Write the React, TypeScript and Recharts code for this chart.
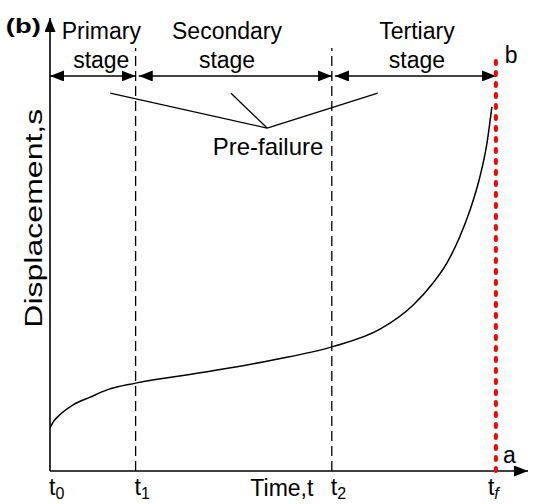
import { ComposedChart, Line, XAxis, YAxis, ReferenceLine, ReferenceDot } from 'recharts';

// curve (time, displacement), arbitrary units
const times = [0, 0.07, 0.22, 0.52, 0.9, 1.28, 1.92, 3.52, 5.0, 6.32, 7.4, 8.14, 8.59, 8.9, 9.19, 9.42, 9.64, 9.8, 9.91];
const displacement = [0.95, 1.08, 1.24, 1.46, 1.63, 1.79, 1.94, 2.19, 2.45, 2.74, 3.13, 3.66, 4.15, 4.59, 5.17, 5.76, 6.49, 7.24, 8.04];

// t0, t1, t2, tf
const stageBounds = [0, 1.92, 6.32, 10];
const stageSubs = ['0', '1', '2', 'f'];
const stageNames = ['Primary', 'Secondary', 'Tertiary'];

const data = times.map((t, i) => ({ t, s: displacement[i] }));

const FONT = '"Liberation Sans", Arial, sans-serif';
const X_MAX = 10.72;
const Y_MAX = 10;

// annotation layout (data units)
const ARROW_S = 8.72;
const STAGE_TEXT_S = 9.54;
const stageTextT = [1.15, 3.97, 8.23];
const preFailFromT = [1.35, 4.06, 7.35];
const PRE_FROM_S = 8.34;
const PRE_JOIN = { t: 4.87, s: 7.57 };

const TimeTick = (p: any) => {
  const i = stageBounds.indexOf(p.payload.value);
  const sub = stageSubs[i];
  const isLast = i === stageBounds.length - 1;
  return (
    <text x={p.x + (isLast ? -8 : -1)} y={p.y + 24} fontFamily={FONT} fontSize={23} fill="#000">
      t
      <tspan dy={4} fontSize={16} fontStyle={sub === 'f' ? 'italic' : 'normal'}>
        {sub}
      </tspan>
    </text>
  );
};

const label =
  (content: string, extra: any = {}) =>
  (p: any) => (
    <text x={p.cx} y={p.cy} fontFamily={FONT} fontSize={23} fill="#000" {...extra}>
      {content}
    </text>
  );

const plainLine = (extra: any) => (p: any) =>
  <line x1={p.x1} y1={p.y1} x2={p.x2} y2={p.y2} stroke="#000" strokeWidth={1.4} {...extra} />;

export default function App() {
  return (
    <div style={{ position: 'absolute', left: 0, top: 0, background: '#fff' }}>
      <ComposedChart width={536} height={504} data={data} margin={{ top: 18, right: 8, left: 0, bottom: 0 }}>
        <defs>
          <marker
            id="ah"
            viewBox="0 0 14 11"
            refX="14"
            refY="5.5"
            markerWidth="14"
            markerHeight="11"
            markerUnits="userSpaceOnUse"
            orient="auto-start-reverse"
          >
            <path d="M0,0 L14,5.5 L0,11 z" fill="#000" />
          </marker>
        </defs>

        <XAxis
          dataKey="t"
          type="number"
          domain={[0, X_MAX]}
          allowDataOverflow
          ticks={stageBounds}
          tick={TimeTick}
          tickLine={false}
          axisLine={false}
          tickSize={0}
          tickMargin={0}
          height={33}
        />
        <YAxis type="number" domain={[0, Y_MAX]} allowDataOverflow width={50} tick={false} tickLine={false} axisLine={false} />

        {/* axes with arrow heads */}
        <ReferenceLine
          segment={[{ x: 0, y: 0 }, { x: 0, y: Y_MAX }]}
          ifOverflow="visible"
          shape={plainLine({ strokeWidth: 1.6, markerEnd: 'url(#ah)' })}
        />
        <ReferenceLine
          segment={[{ x: 0, y: 0 }, { x: X_MAX, y: 0 }]}
          ifOverflow="visible"
          shape={plainLine({ strokeWidth: 1.6, markerEnd: 'url(#ah)' })}
        />

        {/* stage boundaries */}
        <ReferenceLine
          segment={[{ x: stageBounds[1], y: 0 }, { x: stageBounds[1], y: 9.34 }]}
          ifOverflow="visible"
          shape={plainLine({ strokeWidth: 1.3, strokeDasharray: '10 5' })}
        />
        <ReferenceLine
          segment={[{ x: stageBounds[2], y: 0 }, { x: stageBounds[2], y: 9.34 }]}
          ifOverflow="visible"
          shape={plainLine({ strokeWidth: 1.3, strokeDasharray: '10 5' })}
        />

        {/* double arrows for each stage */}
        {stageNames.map((_, i) => (
          <ReferenceLine
            key={'arr' + i}
            segment={[
              { x: stageBounds[i] + (i === 0 ? 0 : 0.07), y: ARROW_S },
              { x: stageBounds[i + 1], y: ARROW_S },
            ]}
            ifOverflow="visible"
            shape={plainLine({ strokeWidth: 1.4, markerStart: 'url(#ah)', markerEnd: 'url(#ah)' })}
          />
        ))}

        {/* pre-failure pointers */}
        {preFailFromT.map((t, i) => (
          <ReferenceLine
            key={'pf' + i}
            segment={[{ x: t, y: PRE_FROM_S }, { x: PRE_JOIN.t, y: PRE_JOIN.s }]}
            ifOverflow="visible"
            shape={plainLine({ strokeWidth: 1.3 })}
          />
        ))}

        {/* failure line */}
        <ReferenceLine
          segment={[{ x: stageBounds[3], y: 0 }, { x: stageBounds[3], y: 9.14 }]}
          ifOverflow="visible"
          shape={plainLine({ stroke: '#ff0000', strokeWidth: 4, strokeDasharray: '3 8', strokeLinecap: 'round' })}
        />

        <Line type="monotone" dataKey="s" stroke="#000" strokeWidth={1.5} dot={false} isAnimationActive={false} />

        {/* text */}
        {stageNames.map((name, i) => (
          <ReferenceDot
            key={'st' + i}
            x={stageTextT[i]}
            y={STAGE_TEXT_S}
            r={0}
            ifOverflow="visible"
            shape={(p: any) => (
              <text x={p.cx} y={p.cy} fontFamily={FONT} fontSize={23} fill="#000" textAnchor="middle">
                {name}
                <tspan x={p.cx} dy={29}>
                  stage
                </tspan>
              </text>
            )}
          />
        ))}
        <ReferenceDot x={4.89} y={6.98} r={0} ifOverflow="visible" shape={label('Pre-failure', { textAnchor: 'middle', fontSize: 24 })} />
        <ReferenceDot x={10.2} y={9.0} r={0} ifOverflow="visible" shape={label('b')} />
        <ReferenceDot x={10.16} y={0.18} r={0} ifOverflow="visible" shape={label('a')} />
        <ReferenceDot x={5.2} y={-0.55} r={0} ifOverflow="visible" shape={label('Time,t', { textAnchor: 'middle' })} />
        <ReferenceDot
          x={-0.99}
          y={9.67}
          r={0}
          ifOverflow="visible"
          shape={label('(b)', { fontWeight: 'bold', fontSize: 20, textLength: 35, lengthAdjust: 'spacingAndGlyphs' })}
        />
        <ReferenceDot
          x={-0.36}
          y={5.58}
          r={0}
          ifOverflow="visible"
          shape={(p: any) => (
            <text
              x={p.cx}
              y={p.cy}
              transform={`rotate(-90 ${p.cx} ${p.cy})`}
              textAnchor="middle"
              dominantBaseline="central"
              fontFamily={FONT}
              fontSize={23}
              fill="#000"
              textLength={219}
              lengthAdjust="spacingAndGlyphs"
            >
              Displacement,s
            </text>
          )}
        />
      </ComposedChart>
    </div>
  );
}
